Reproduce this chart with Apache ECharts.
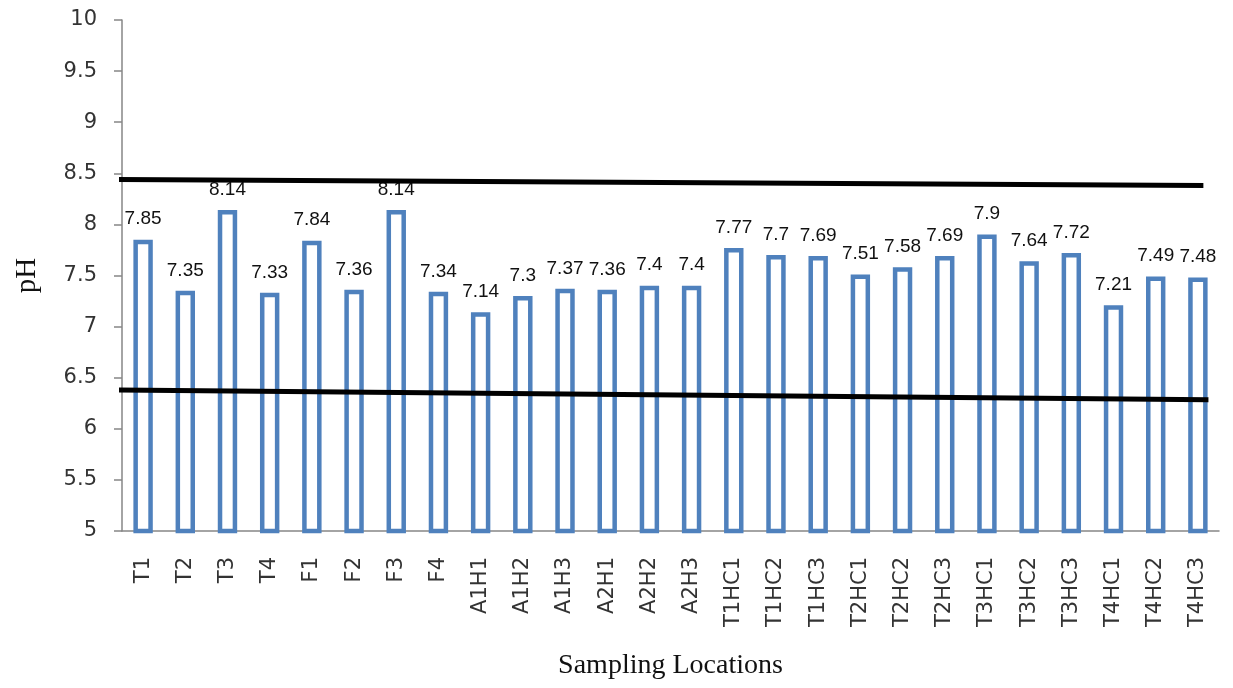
<!DOCTYPE html>
<html>
<head>
<meta charset="utf-8">
<script src="https://cdn.jsdelivr.net/npm/echarts@6/dist/echarts.min.js"></script>
<style>
  html, body { margin: 0; padding: 0; background: #fff; }
  #chart { width: 1233px; height: 688px; }
</style>
</head>
<body>
<div id="chart"></div>
<script>
// Sampling locations along the x axis
const locations = ['T1', 'T2', 'T3', 'T4', 'F1', 'F2', 'F3', 'F4',
  'A1H1', 'A1H2', 'A1H3', 'A2H1', 'A2H2', 'A2H3',
  'T1HC1', 'T1HC2', 'T1HC3', 'T2HC1', 'T2HC2', 'T2HC3',
  'T3HC1', 'T3HC2', 'T3HC3', 'T4HC1', 'T4HC2', 'T4HC3'];

// Measured pH at each location
const phValues = [7.85, 7.35, 8.14, 7.33, 7.84, 7.36, 8.14, 7.34,
  7.14, 7.3, 7.37, 7.36, 7.4, 7.4,
  7.77, 7.7, 7.69, 7.51, 7.58, 7.69,
  7.9, 7.64, 7.72, 7.21, 7.49, 7.48];

// Hand-drawn permissible limit lines: [position along locations, pH]
const upperLimit = [[-0.26, 8.44], [25.63, 8.38]];
const lowerLimit = [[-0.26, 6.38], [25.75, 6.285]];

// pH axis range
const yMin = 5, yMax = 10, yStep = 0.5;

const axisGray = '#868686';
const textColor = '#333333';

const chart = echarts.init(document.getElementById('chart'));
chart.setOption({
  animation: false,
  backgroundColor: '#ffffff',
  grid: {
    left: 122, right: 14, top: 20, bottom: 157,
    containLabel: false,
    outerBoundsMode: 'none'
  },
  xAxis: [
    {
      type: 'category',
      data: locations,
      name: 'Sampling Locations',
      nameLocation: 'middle',
      nameGap: 121,
      nameTextStyle: { fontFamily: 'Liberation Serif', fontSize: 28, color: '#111' },
      axisLine: { lineStyle: { color: axisGray, width: 1.5 } },
      axisTick: { show: false },
      axisLabel: {
        rotate: 90,
        margin: 26,
        interval: 0,
        fontFamily: 'DejaVu Sans',
        fontSize: 21,
        color: textColor
      }
    },
    {
      type: 'value',
      min: 0,
      max: locations.length,
      show: false
    }
  ],
  yAxis: {
    type: 'value',
    min: yMin,
    max: yMax,
    interval: yStep,
    name: 'pH',
    nameLocation: 'middle',
    nameGap: 80,
    nameTextStyle: { fontFamily: 'Liberation Serif', fontSize: 29, color: '#111' },
    splitLine: { show: false },
    axisLine: { show: true, lineStyle: { color: axisGray, width: 1.5 } },
    axisTick: { show: true, length: 8, lineStyle: { color: axisGray, width: 1.5 } },
    axisLabel: {
      margin: 25,
      fontFamily: 'DejaVu Sans',
      fontSize: 21,
      color: textColor
    }
  },
  series: [
    {
      type: 'bar',
      xAxisIndex: 0,
      data: phValues,
      barWidth: '46%',
      z: 2,
      itemStyle: {
        color: '#ffffff',
        borderColor: '#4F81BD',
        borderWidth: 4.5
      },
      label: {
        show: true,
        position: 'top',
        distance: 11,
        fontFamily: 'Liberation Sans',
        fontSize: 19,
        color: '#111'
      }
    },
    {
      type: 'line',
      xAxisIndex: 1,
      data: upperLimit,
      clip: false,
      symbol: 'none',
      z: 10,
      lineStyle: { color: '#000', width: 5 }
    },
    {
      type: 'line',
      xAxisIndex: 1,
      data: lowerLimit,
      clip: false,
      symbol: 'none',
      z: 10,
      lineStyle: { color: '#000', width: 5 }
    }
  ]
});
</script>
</body>
</html>
